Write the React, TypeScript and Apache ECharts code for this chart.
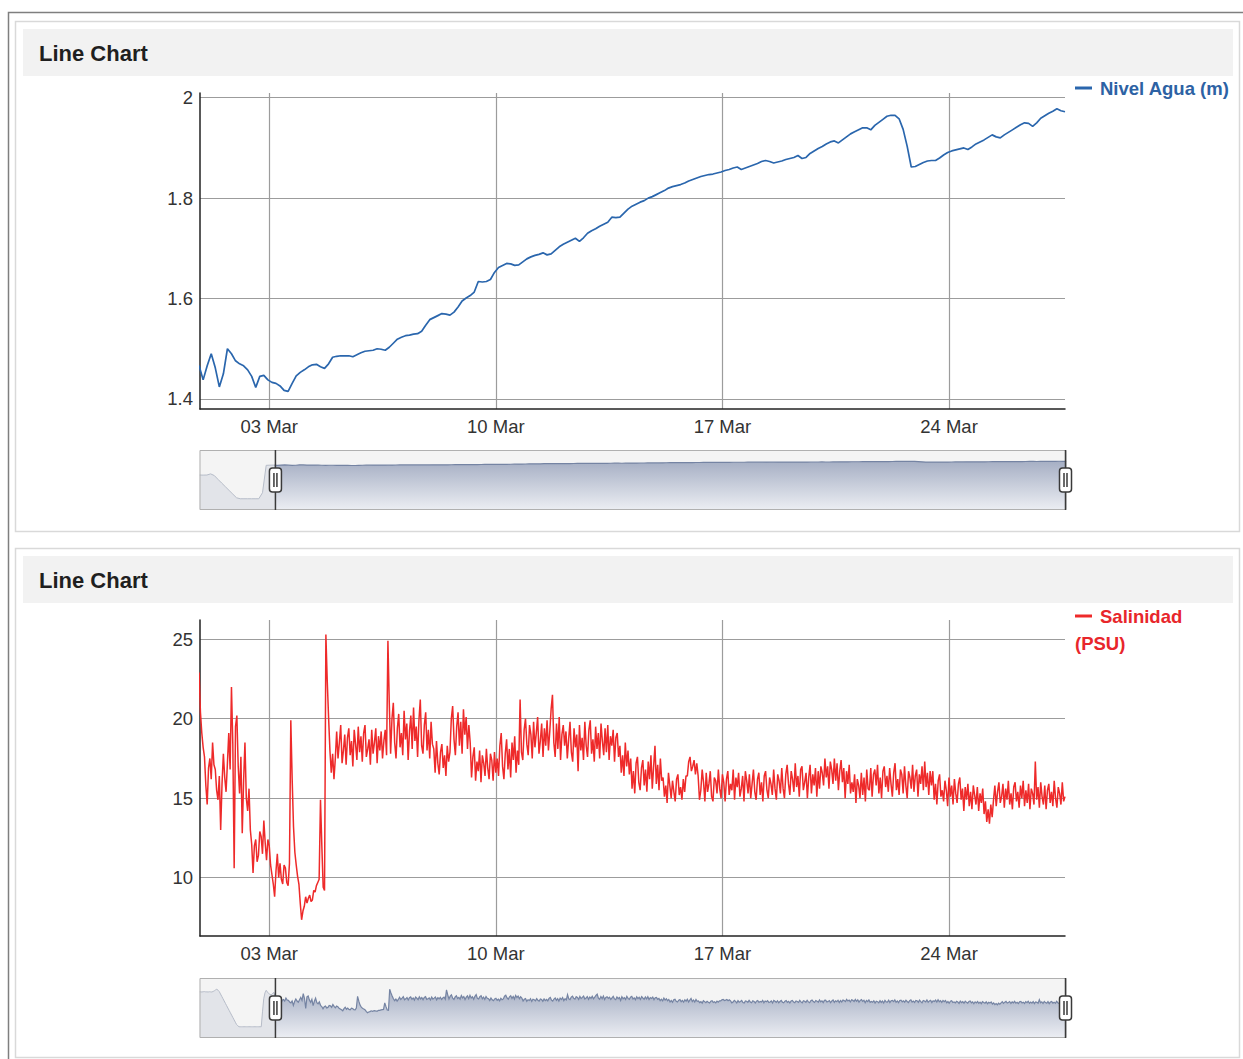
import React, { useEffect, useRef } from "react";
import * as echarts from "echarts";

// ---------- data ----------
const START = new Date(2017, 1, 26, 8, 0, 0).getTime(); // first sample
const HOUR = 3600 * 1000;
const LEVEL_STEP_H = 3; // hours between level samples
const SAL_STEP_H = 1; // hours between salinity samples
const DATA_END_H = 702; // last sample (hours after START)
const VIEW_START_H = 60.67; // brushed window start (hours after START)
const VIEW_END_H = 702; // brushed window end

const MONTHS = ["Jan", "Feb", "Mar", "Apr", "May", "Jun", "Jul", "Aug", "Sep", "Oct", "Nov", "Dec"];
const xTickDates = [
  [2017, 2, 3],
  [2017, 2, 10],
  [2017, 2, 17],
  [2017, 2, 24],
];
const levelTicks = [1.4, 1.6, 1.8, 2];
const salinityTicks = [10, 15, 20, 25];

const levelName = "Nivel Agua (m)";
const salinityName = "Salinidad";
const salinityUnit = "(PSU)";

const levelValues = [
  0.15, 0.14, 0.15, 0.3, 0.08, -0.43, -0.92, -1.41, -1.9, -2.39,
  -2.87, -3.0, -3.0, -3.0, -3.0, -3.0, -3.0, -2.2, 1.44,
  1.458, 1.466, 1.438, 1.466, 1.49, 1.462, 1.424, 1.45, 1.5, 1.49,
  1.476, 1.47, 1.466, 1.458, 1.445, 1.423, 1.445, 1.447, 1.438, 1.433,
  1.431, 1.426, 1.417, 1.415, 1.431, 1.446, 1.453, 1.458, 1.464, 1.468,
  1.469, 1.464, 1.461, 1.47, 1.483, 1.485, 1.486, 1.486, 1.486, 1.484,
  1.488, 1.492, 1.495, 1.496, 1.497, 1.5, 1.499, 1.497, 1.503, 1.511,
  1.519, 1.523, 1.526, 1.527, 1.529, 1.53, 1.535, 1.547, 1.558, 1.562,
  1.566, 1.57, 1.569, 1.567, 1.573, 1.583, 1.595, 1.601, 1.606, 1.613,
  1.634, 1.633, 1.634, 1.638, 1.652, 1.662, 1.666, 1.67, 1.669, 1.666,
  1.667, 1.673, 1.679, 1.683, 1.686, 1.688, 1.691, 1.687, 1.689, 1.696,
  1.703, 1.708, 1.712, 1.716, 1.72, 1.714, 1.721, 1.73, 1.735, 1.739,
  1.744, 1.748, 1.752, 1.762, 1.761, 1.762, 1.77, 1.778, 1.784, 1.788,
  1.792, 1.795, 1.8, 1.803, 1.807, 1.811, 1.815, 1.82, 1.823, 1.825,
  1.827, 1.83, 1.834, 1.837, 1.84, 1.843, 1.845, 1.847, 1.848, 1.85,
  1.852, 1.855, 1.857, 1.86, 1.862, 1.857, 1.86, 1.863, 1.866, 1.869,
  1.873, 1.875, 1.873, 1.87, 1.872, 1.874, 1.877, 1.879, 1.881, 1.885,
  1.879, 1.881, 1.889, 1.894, 1.899, 1.903, 1.908, 1.912, 1.914, 1.91,
  1.916, 1.922, 1.928, 1.932, 1.936, 1.94, 1.94, 1.936, 1.945, 1.951,
  1.957, 1.963, 1.965, 1.965, 1.958, 1.937, 1.903, 1.862, 1.863, 1.867,
  1.871, 1.874, 1.875, 1.875, 1.88, 1.886, 1.891, 1.894, 1.896, 1.898,
  1.9, 1.897, 1.902, 1.908, 1.912, 1.916, 1.921, 1.926, 1.922, 1.92,
  1.926, 1.931, 1.936, 1.941, 1.946, 1.95, 1.949, 1.943, 1.95, 1.959,
  1.964, 1.969, 1.973, 1.978, 1.974, 1.972,
];

// hourly salinity, h0 .. h702
const salinityValues = [
  // h0-59 (before the brushed window)
  23.4, 23.3, 23.2, 23.4, 23.5, 23.3, 23.3, 23.2, 23.4, 23.3,
  23.2, 23.6, 24.1, 24.8, 25.3, 24.6, 23.5, 21.7, 19.9, 18.1,
  16.3, 14.5, 12.7, 10.9, 9.1, 7.3, 5.5, 3.7, 1.9, 0.1,
  -1.7, -2.6, -3.4, -3.4, -3.4, -3.4, -3.4, -3.4, -3.4, -3.4,
  -3.4, -3.4, -3.4, -3.4, -3.4, -3.4, -3.4, -3.4, -3.4, -3.4,
  -3.4, 8.0, 18.0, 22.5, 24.5, 23.2, 22.0, 21.4, 21.0, 21.8,
  // h60-99
  22.9, 20.4, 19.1, 18.2, 17.6, 15.8, 14.6, 16.9, 17.5, 16.2,
  18.5, 17.1, 16.8, 15.5, 14.9, 16.4, 13.0, 15.9, 17.8, 16.3,
  15.4, 17.2, 19.1, 16.8, 22.0, 18.4, 10.6, 19.5, 20.2, 17.0,
  15.3, 17.6, 12.8, 16.1, 18.5, 15.0, 14.2, 15.6, 13.0, 12.1,
  // h100-127
  10.3, 12.0, 12.4, 11.0, 11.4, 12.9, 12.6, 11.5, 13.6, 12.2,
  11.1, 12.4, 12.0, 10.8, 10.2, 9.6, 8.8, 10.4, 11.5, 10.0,
  10.9, 9.9, 9.6, 10.8, 10.6, 9.7, 9.5, 10.9,
  // h128-155
  19.9, 16.2, 13.2, 11.6, 10.8, 10.1, 9.6, 8.4, 7.35, 7.9,
  8.2, 8.8, 8.4, 8.7, 8.9, 8.5, 8.6, 9.2, 9.1, 9.5,
  9.7, 9.9, 14.9, 12.0, 9.4, 9.2, 25.3, 22.4,
  // h156-199
  20.1, 18.0, 16.6, 17.8, 16.2, 17.5,
  19.2, 17.5, 18.5, 19.6, 17.2, 18.0, 19.0, 17.1, 18.8, 19.4,
  17.7, 18.6, 17.0, 19.3, 18.4, 17.4, 19.5, 17.9, 18.9, 17.3,
  19.1, 19.6, 17.6, 18.1, 18.7, 17.1, 19.3, 17.8, 18.5, 19.4,
  17.2, 18.9, 18.0, 19.2, 17.5, 18.6, 19.3, 17.7,
  // h200-233
  24.9, 21.0,
  17.8, 20.0, 21.0, 18.5, 17.5, 19.4, 20.3, 18.2, 19.1, 17.7,
  20.5, 18.7, 19.7, 17.4, 19.2, 20.2, 18.1, 20.7, 18.6, 19.5,
  17.6, 19.9, 21.2, 18.3, 17.8, 19.6, 20.4, 18.0, 19.3, 17.5, 19.8, 18.4,
  // h234-245
  18.1, 16.6, 18.6, 17.2, 16.5, 17.9, 18.4, 16.9, 17.7, 16.4, 18.3, 17.3,
  // h246-261
  17.9, 20.0, 20.8, 18.7, 17.7, 19.5, 20.4, 18.3, 19.8, 17.8, 20.6, 19.0, 20.1, 18.1, 19.6, 18.5,
  // h262-281
  16.3, 17.6, 18.2, 16.1, 17.3, 16.7, 18.0, 16.0, 17.7, 17.2,
  16.4, 18.1, 16.9, 16.2, 17.8, 17.4, 16.1, 17.9, 16.6, 17.5,
  // h282-297
  16.4, 18.3, 19.1, 17.0, 16.2, 17.8, 18.7, 16.8, 18.1, 16.3, 18.5, 17.4, 18.9, 16.6, 18.0, 17.1,
  // h298-331
  21.2,
  17.9, 17.4, 19.3, 20.0, 18.4, 17.7, 19.6, 19.0, 17.5, 19.8,
  18.2, 19.1, 20.1, 17.8, 18.6, 19.7, 17.6, 19.4, 18.3, 19.9,
  18.0, 19.2, 20.6, 21.5, 18.5, 17.6, 19.7, 18.1, 20.1, 17.4, 19.0, 19.6, 18.3,
  // h332-371
  19.2, 17.5, 18.7, 19.8, 17.9, 17.3, 19.4, 18.2, 19.0, 16.7,
  19.6, 18.0, 18.8, 17.4, 19.8, 18.3, 17.6, 19.3, 19.9, 17.8,
  18.7, 17.3, 19.5, 18.1, 19.1, 17.5, 19.7, 18.6, 17.7, 19.4,
  17.9, 19.6, 17.4, 18.9, 18.3, 19.3, 17.3, 18.8, 19.1, 17.6,
  // h372-379
  18.3, 16.6, 17.7, 16.4, 18.5, 17.0, 18.0, 16.5,
  // h380-403
  17.5, 15.6, 16.7, 15.3, 17.2, 17.6, 16.0, 15.5, 16.9, 17.4,
  15.8, 16.8, 15.4, 17.3, 16.2, 17.7, 15.6, 17.0, 18.3, 15.9,
  17.1, 15.5, 17.5, 16.1,
  // h404-421
  16.3, 15.1, 15.8, 14.7, 16.6, 15.8, 15.0, 16.1, 15.4, 14.8,
  16.2, 16.5, 15.2, 15.7, 14.9, 16.2, 15.4, 16.4,
  // h422-429
  16.4, 17.3, 17.6, 16.7, 17.0, 17.4, 16.5, 17.2,
  // h430-491
  16.4, 14.9, 15.5, 16.8, 16.0, 14.8, 16.6, 15.4, 15.9, 16.7,
  15.1, 14.8, 16.3, 16.1, 15.3, 16.8, 15.6, 15.0, 16.5, 16.0,
  14.8, 16.2, 16.7, 15.2, 15.9, 15.5, 16.8, 14.9, 16.3, 15.7,
  16.6, 15.1, 15.6, 16.4, 14.8, 16.7, 16.1, 15.3, 16.5, 15.0,
  15.9, 16.8, 15.4, 14.9, 16.2, 16.6, 15.2, 16.0, 14.8, 16.4,
  16.7, 15.5, 15.0, 16.3, 15.9, 15.2, 16.8, 15.6, 14.9, 16.5,
  16.1, 15.3,
  // h492-611
  16.9, 15.6, 15.0, 16.5, 17.1, 15.9, 15.2, 16.7, 16.2, 15.4,
  17.2, 15.7, 16.4, 15.1, 16.8, 17.0, 15.5, 16.0, 16.6, 15.0,
  16.3, 17.1, 15.3, 16.5, 15.8, 16.9, 15.1, 16.7, 15.6, 17.0,
  16.6, 15.8, 17.5, 16.3, 17.0, 15.6, 17.3, 16.8, 15.9, 17.5,
  16.1, 17.2, 15.5, 16.7, 17.4, 16.0, 16.9, 15.0, 16.7, 15.9,
  17.1, 15.3, 16.0, 15.4, 16.5, 14.7, 16.2, 15.8, 15.0, 16.6,
  15.2, 16.3, 14.8, 16.8, 15.6, 15.5, 16.9, 15.1, 16.5, 16.8,
  15.8, 17.1, 15.3, 16.3, 15.0, 16.7, 17.0, 15.7, 16.4, 15.4,
  16.9, 15.9, 15.1, 16.6, 17.2, 15.5, 16.2, 15.2, 16.8, 16.5,
  15.3, 17.0, 15.8, 15.0, 16.7, 16.3, 15.6, 17.1, 15.4, 16.4,
  16.8, 15.1, 16.5, 15.9, 17.0, 15.5, 17.3, 15.7, 16.6, 15.2,
  16.7, 15.8, 16.7, 14.9, 15.9, 14.6, 16.1, 16.5, 15.1, 15.5,
  // h612-641
  14.8, 16.1, 15.5, 14.5, 16.3, 15.1, 15.8, 14.6, 16.2, 15.3,
  14.7, 15.9, 16.3, 14.9, 15.6, 14.2, 15.7, 14.9, 15.9, 14.5,
  15.4, 14.3, 15.8, 15.2, 14.6, 15.7, 14.2, 15.3, 14.7, 15.6,
  // h642-649
  14.0, 14.8, 13.5, 14.3, 13.4, 14.6, 13.8, 14.9,
  // h650-702
  15.8, 14.5, 15.4, 16.0, 14.7, 15.1, 15.9, 14.4, 15.6, 14.9,
  16.1, 14.6, 15.3, 14.3, 15.7, 16.0, 14.8, 15.4, 14.4, 15.8,
  15.0, 16.1, 14.5, 15.5, 14.7, 15.9, 14.3, 15.6, 15.3, 14.6,
  17.3, 14.9, 15.7, 14.4, 16.0, 15.1, 14.6, 15.8, 14.3, 15.5,
  15.9, 14.7, 15.4, 14.5, 16.1, 15.0, 14.4, 15.7, 15.3, 14.6,
  16.0, 14.8, 15.1,
];

// ---------- styling ----------
const FONT = '"Liberation Sans", Arial, Helvetica, sans-serif';
const LEVEL_COLOR = "#2a66ad";
const SAL_COLOR = "#ee2a2a";
const GRID_COLOR = "#9c9c9c";
const AXIS_COLOR = "#222";
const LABEL_COLOR = "#333";

const HANDLE_ICON =
  "path://M6,0V18M6,42V60M3,18H9A3,3,0,0,1,12,21V39A3,3,0,0,1,9,42H3A3,3,0,0,1,0,39V21A3,3,0,0,1,3,18ZM4.5,23V37M7.5,23V37";

function fmtDate(v: number) {
  const d = new Date(v);
  return String(d.getDate()).padStart(2, "0") + " " + MONTHS[d.getMonth()];
}

function makeX(gridIndex: number, ticks: number[]) {
  return {
    type: "value",
    gridIndex,
    scale: true,
    min: START,
    max: START + DATA_END_H * HOUR,
    axisLine: { show: true, onZero: false, lineStyle: { color: AXIS_COLOR, width: 1.5 } },
    axisTick: { show: false, customValues: ticks },
    axisLabel: {
      customValues: ticks,
      formatter: (v: number) => fmtDate(v),
      color: LABEL_COLOR,
      fontSize: 18.5,
      fontFamily: FONT,
      margin: 8,
    },
    splitLine: { show: true, lineStyle: { color: GRID_COLOR, width: 1.2 } },
  };
}

function makeY(gridIndex: number, min: number, max: number, ticks: number[]) {
  return {
    type: "value",
    gridIndex,
    min,
    max,
    axisLine: { show: true, lineStyle: { color: AXIS_COLOR, width: 1.5 } },
    axisTick: { show: false, customValues: ticks },
    axisLabel: {
      customValues: ticks,
      color: LABEL_COLOR,
      fontSize: 18.5,
      fontFamily: FONT,
      margin: 7,
    },
    splitLine: { show: true, lineStyle: { color: GRID_COLOR, width: 1.2 } },
  };
}

function makeSlider(xAxisIndex: number, top: number) {
  return {
    type: "slider",
    xAxisIndex,
    filterMode: "none",
    startValue: START + VIEW_START_H * HOUR,
    endValue: START + VIEW_END_H * HOUR,
    left: 197,
    width: 867,
    top,
    height: 60,
    showDetail: false,
    brushSelect: false,
    moveHandleSize: 0,
    borderRadius: 0,
    backgroundColor: "#f4f4f4",
    borderColor: "#b0b0b0",
    fillerColor: "rgba(0,0,0,0)",
    handleIcon: HANDLE_ICON,
    handleSize: "100%",
    handleStyle: { color: "#ffffff", borderColor: "#3a3a3a", borderWidth: 1.5 },
    dataBackground: {
      lineStyle: { color: "#b6bcc8", width: 1, opacity: 1 },
      areaStyle: { color: "#e2e4e9", opacity: 1 },
    },
    selectedDataBackground: {
      lineStyle: { color: "#7584a3", width: 1.2, opacity: 1 },
      areaStyle: {
        opacity: 1,
        color: new echarts.graphic.LinearGradient(0, 0, 0, 1, [
          { offset: 0, color: "#eceef3" },
          { offset: 1, color: "#a6afc4" },
        ]),
      },
    },
  };
}

export default function App() {
  const ref = useRef<HTMLDivElement>(null);

  useEffect(() => {
    if (!ref.current) return;
    const chart = echarts.init(ref.current, undefined, { renderer: "svg" });

    const levelData = levelValues.map((v, i) => [START + i * LEVEL_STEP_H * HOUR, v]);
    const salData = salinityValues.map((v, i) => [START + i * SAL_STEP_H * HOUR, v]);
    const xTicks = xTickDates.map(([y, m, d]) => new Date(y, m, d).getTime());

    const frame: any[] = [
      { type: "rect", z: -100, silent: true, shape: { x: 8.5, y: 12.5, width: 1260, height: 1100 }, style: { fill: "#fff", stroke: "#7f7f7f", lineWidth: 1.5 } },
      { type: "rect", z: -99, silent: true, shape: { x: 15.5, y: 21.5, width: 1224, height: 510 }, style: { fill: "#fff", stroke: "#d9d9d9", lineWidth: 1.5 } },
      { type: "rect", z: -98, silent: true, shape: { x: 23, y: 29, width: 1210, height: 47 }, style: { fill: "#f2f2f2" } },
      { type: "rect", z: -99, silent: true, shape: { x: 15.5, y: 548.5, width: 1224, height: 509 }, style: { fill: "#fff", stroke: "#d9d9d9", lineWidth: 1.5 } },
      { type: "rect", z: -98, silent: true, shape: { x: 23, y: 556, width: 1210, height: 47 }, style: { fill: "#f2f2f2" } },
      { type: "text", z: 50, x: 39, y: 53, style: { text: "Line Chart", font: `bold 22px ${FONT}`, fill: "#1f1f1f", verticalAlign: "middle", align: "left" } },
      { type: "text", z: 50, x: 39, y: 580, style: { text: "Line Chart", font: `bold 22px ${FONT}`, fill: "#1f1f1f", verticalAlign: "middle", align: "left" } },
      { type: "line", z: 50, shape: { x1: 1075, y1: 88, x2: 1092, y2: 88 }, style: { stroke: LEVEL_COLOR, lineWidth: 3 } },
      { type: "text", z: 50, x: 1100, y: 88, style: { text: levelName, font: `bold 18.5px ${FONT}`, fill: "#2d62a4", verticalAlign: "middle", align: "left" } },
      { type: "line", z: 50, shape: { x1: 1075, y1: 616, x2: 1092, y2: 616 }, style: { stroke: SAL_COLOR, lineWidth: 3 } },
      { type: "text", z: 50, x: 1100, y: 616, style: { text: salinityName, font: `bold 18.5px ${FONT}`, fill: "#e8262b", verticalAlign: "middle", align: "left" } },
      { type: "text", z: 50, x: 1075, y: 643, style: { text: salinityUnit, font: `bold 18.5px ${FONT}`, fill: "#e8262b", verticalAlign: "middle", align: "left" } },
    ];

    chart.setOption({
      animation: false,
      backgroundColor: "transparent",
      textStyle: { fontFamily: FONT },
      grid: [
        { left: 200, top: 93, width: 865, height: 316, containLabel: false },
        { left: 200, top: 620, width: 865, height: 316, containLabel: false },
      ],
      xAxis: [makeX(0, xTicks), makeX(1, xTicks)],
      yAxis: [makeY(0, 1.38, 2.0094, levelTicks), makeY(1, 6.33, 26.21, salinityTicks)],
      dataZoom: [makeSlider(0, 450), makeSlider(1, 978)],
      graphic: frame,
      series: [
        {
          name: levelName,
          type: "line",
          xAxisIndex: 0,
          yAxisIndex: 0,
          data: levelData,
          showSymbol: false,
          symbol: "none",
          clip: true,
          lineStyle: { color: LEVEL_COLOR, width: 1.7 },
          itemStyle: { color: LEVEL_COLOR },
          z: 3,
        },
        {
          name: salinityName + " " + salinityUnit,
          type: "line",
          xAxisIndex: 1,
          yAxisIndex: 1,
          data: salData,
          showSymbol: false,
          symbol: "none",
          clip: true,
          lineStyle: { color: SAL_COLOR, width: 1.5 },
          itemStyle: { color: SAL_COLOR },
          z: 3,
        },
      ],
    });

    return () => chart.dispose();
  }, []);

  return (
    <div
      ref={ref}
      style={{ position: "absolute", left: 0, top: 0, width: 1243, height: 1059, background: "#fff" }}
    />
  );
}
